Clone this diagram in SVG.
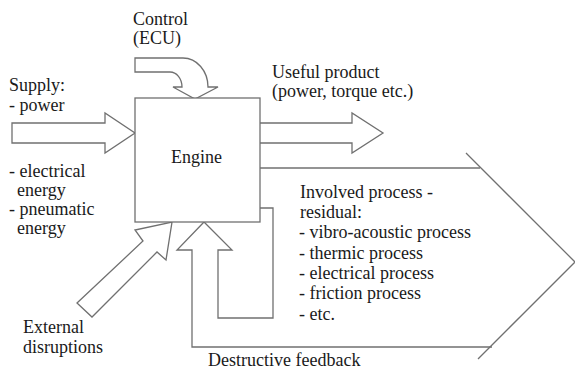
<svg xmlns="http://www.w3.org/2000/svg" width="575" height="372" viewBox="0 0 575 372">
<style>
.s{fill:none;stroke:#707070;stroke-width:1.3;stroke-linejoin:miter}
.f{fill:#fff;stroke:#707070;stroke-width:1.3}
.t{font-family:'Liberation Serif','Times New Roman',serif;font-size:18px;fill:#1a1a1a}
</style>
<rect width="575" height="372" fill="#fff"/>
<g id="connectors">
<path id="supply-arrow" class="f" d="M12,123 L105,123 L105,113 L135,133 L105,153 L105,143 L12,143 Z"/>
<path id="control-arrow" class="f" d="M135,58 L183,58 A25,29 0 0 1 208,87 L218,87 L195,99 L173,87 L182,87 A12,15 0 0 0 170,72 L135,72 Z"/>
<path id="useful-arrow" class="s" d="M260,123 L352,123 L352,113 L383,133 L352,153 L352,143 L260,143"/>
<path id="external-arrow" class="f" d="M77,303 L143,241 L135,230 L172,222 L166,260 L157,252 L92,317 Z"/>
<path id="residual-top" class="s" d="M260,168 L480,168"/>
<path id="residual-chevron" class="s" d="M466,153 L575,262 L478,359"/>
<path id="feedback" class="s" d="M260,208 L273,208 L273,318 L218,318 L218,250 L232,250 L204,222 L177,250 L192,250 L192,347 L492,347"/>
</g>
<g id="engine">
<rect x="135" y="98" width="125" height="124" class="f"/>
<text class="t" x="171" y="163">Engine</text>
</g>
<g id="supply-label" class="t">
<text x="9" y="91">Supply:</text>
<text x="9" y="111">- power</text>
<text x="9" y="177">- electrical</text>
<text x="17" y="196">energy</text>
<text x="9" y="215">- pneumatic</text>
<text x="17" y="234">energy</text>
</g>
<g id="control-label" class="t">
<text x="133" y="25">Control</text>
<text x="133" y="44">(ECU)</text>
</g>
<g id="useful-label" class="t">
<text x="272" y="78">Useful product</text>
<text x="272" y="97">(power, torque etc.)</text>
</g>
<g id="residual-label" class="t">
<text x="300" y="198">Involved process -</text>
<text x="300" y="218">residual:</text>
<text x="299" y="238">- vibro-acoustic process</text>
<text x="299" y="259">- thermic process</text>
<text x="299" y="279">- electrical process</text>
<text x="299" y="299">- friction process</text>
<text x="299" y="320">- etc.</text>
</g>
<g id="external-label" class="t">
<text x="23" y="333">External</text>
<text x="23" y="353">disruptions</text>
</g>
<g id="feedback-label" class="t">
<text x="208" y="366">Destructive feedback</text>
</g>
</svg>
